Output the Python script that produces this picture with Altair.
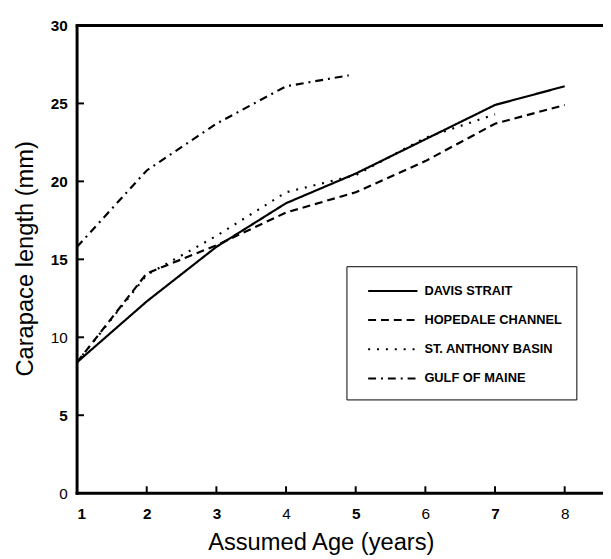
import altair as alt
import pandas as pd

# ---- data ----
ages = [1, 2, 3, 4, 5, 6, 7, 8]
davis_strait = [8.4, 12.3, 15.8, 18.6, 20.5, 22.7, 24.9, 26.1]
hopedale_channel = [8.4, 14.1, 15.9, 18.0, 19.3, 21.3, 23.7, 24.9]
st_anthony_ages = [1, 2, 3, 4, 5, 6, 7]
st_anthony_basin = [8.4, 14.0, 16.5, 19.3, 20.4, 22.8, 24.3]
gulf_ages = [1, 2, 3, 4, 4.9]
gulf_of_maine = [15.8, 20.7, 23.7, 26.1, 26.8]

site_names = ["DAVIS STRAIT", "HOPEDALE CHANNEL", "ST. ANTHONY BASIN", "GULF OF MAINE"]
site_dashes = [[1, 0], [8, 5], [2, 7], [8, 5, 2, 5]]

y_tick_values = [0, 5, 10, 15, 20, 25, 30]
x_tick_values = ages

series = [
    (site_names[0], ages, davis_strait),
    (site_names[1], ages, hopedale_channel),
    (site_names[2], st_anthony_ages, st_anthony_basin),
    (site_names[3], gulf_ages, gulf_of_maine),
]
rows = []
for name, xs, ys in series:
    for a, v in zip(xs, ys):
        rows.append({"site": name, "age": a, "length": v})
df = pd.DataFrame(rows)

W, H = 533, 474
FONT = "Liberation Sans"

x_scale = alt.Scale(domain=[1, 8.55], nice=False, zero=False)
y_scale = alt.Scale(domain=[0, 30], nice=False)

x_axis = alt.Axis(
    values=x_tick_values, format="d", ticks=False, tickSize=0, domain=False,
    labelFont=FONT, labelFontSize=15.5, labelColor="black", labelPadding=14,
    labelFontWeight={"condition": {"test": "datum.value == 4 || datum.value == 6 || datum.value == 8",
                                   "value": "normal"}, "value": "bold"},
    grid=False, title="Assumed Age (years)", titleFont=FONT, titleFontSize=24,
    titleFontWeight="normal", titleColor="black", titleX=247, titleY=57,
    titleBaseline="alphabetic")
y_axis = alt.Axis(
    values=y_tick_values, ticks=False, tickSize=0, domain=False,
    labelFont=FONT, labelFontSize=15.5, labelColor="black", labelPadding=10,
    labelFontWeight={"condition": {"test": "datum.value == 10 || datum.value == 0",
                                   "value": "normal"}, "value": "bold"},
    grid=False, title="Carapace length (mm)", titleFont=FONT, titleFontSize=24,
    titleFontWeight="normal", titleColor="black", titleX=-45, titleY=236,
    titleBaseline="alphabetic", titleAlign="center", titleAngle=270)

lines = alt.Chart(df).mark_line(color="black", strokeWidth=2.2).encode(
    x=alt.X("age:Q", scale=x_scale, axis=x_axis),
    y=alt.Y("length:Q", scale=y_scale, axis=y_axis),
    strokeDash=alt.StrokeDash("site:N", scale=alt.Scale(domain=site_names, range=site_dashes),
                              legend=alt.Legend(
                                  title=None, orient="none", legendX=273, legendY=244,
                                  strokeColor="black", fillColor="white", padding=14,
                                  symbolType="M-0.3,0H4.7", symbolSize=400, symbolStrokeWidth=2,
                                  symbolStrokeColor="black", labelFont=FONT, labelFontSize=13,
                                  labelFontWeight="bold", labelColor="black", labelOffset=43,
                                  rowPadding=11.6)),
    order="age:Q",
)

yt = pd.DataFrame({"length": [5, 10, 15, 20, 25]})
y_ticks = alt.Chart(yt).mark_rule(color="black", strokeWidth=2).encode(
    y=alt.Y("length:Q", scale=y_scale, axis=y_axis),
    x=alt.value(0), x2=alt.value(7),
)
xt = pd.DataFrame({"age": [2, 3, 4, 5, 6, 7, 8]})
x_ticks = alt.Chart(xt).mark_rule(color="black", strokeWidth=2).encode(
    x=alt.X("age:Q", scale=x_scale, axis=x_axis),
    y=alt.value(H), y2=alt.value(H - 7),
)
frame = alt.Data(values=[{"a": 1}])
top_border = alt.Chart(frame).mark_rule(color="black", strokeWidth=3).encode(
    y=alt.value(0), x=alt.value(-1.5), x2=alt.value(W),
)
left_border = alt.Chart(frame).mark_rule(color="black", strokeWidth=3).encode(
    x=alt.value(0), y=alt.value(0), y2=alt.value(H + 1.5),
)
bottom_border = alt.Chart(frame).mark_rule(color="black", strokeWidth=3).encode(
    y=alt.value(H), x=alt.value(-1.5), x2=alt.value(W),
)

chart = alt.layer(lines, y_ticks, x_ticks, top_border, left_border, bottom_border).properties(
    width=W, height=H,
    autosize=alt.AutoSizeParams(type="none"),
    padding={"left": 70, "top": 14, "right": 0, "bottom": 63},
).configure_view(stroke=None).configure_legend(strokeWidth=1.5).configure(background="white")

chart.save("out.html", embed_options={"renderer": "svg", "actions": False})
